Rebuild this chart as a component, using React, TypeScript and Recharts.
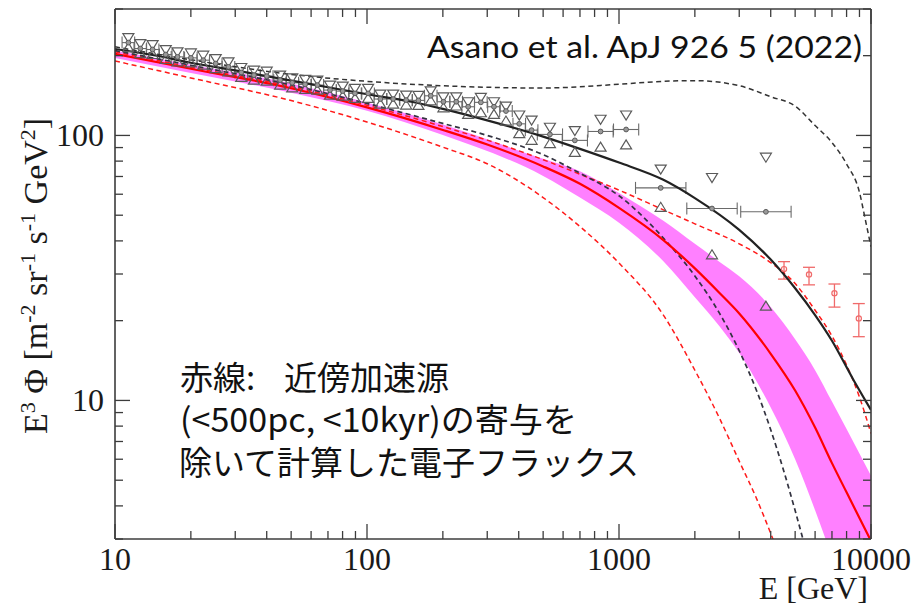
import React from 'react';
import { ComposedChart, Line, Area, Scatter, ErrorBar, XAxis, YAxis } from 'recharts';

// Energy [GeV] grids and E^3 flux values for each model curve
const totalE = [10, 15, 20, 30, 50, 70, 100, 150, 200, 300, 500, 700, 1000, 1500, 2000, 3000, 4000, 5000, 6000, 7000, 8500, 10000];
const totalF = [212, 199, 188, 176, 161, 152, 143, 134, 126, 114, 99, 89, 79, 68, 58, 44, 34, 26.5, 21.0, 16.8, 12.0, 9.2];

const upperDashE = [10, 20, 50, 100, 200, 500, 1000, 1500, 2000, 3000, 4000, 5000, 6000, 7000, 8000, 9000, 9500, 10000];
const upperDashF = [216, 193, 170, 160, 154, 151, 156, 160, 161, 154, 140, 129, 109, 94, 78, 61, 48, 38];

const lowerDashE = [10, 20, 50, 100, 200, 300, 500, 700, 1000, 1500, 2000, 2500, 3000, 3500, 4000, 4500, 5000, 5500, 6000];
const lowerDashF = [209, 184, 155, 132, 111, 100, 84.6, 72, 59.2, 41.0, 29.5, 21.4, 15.4, 11.0, 7.75, 5.44, 3.84, 2.75, 2.0];

const redE = [10, 20, 50, 100, 200, 300, 500, 700, 1000, 1500, 2000, 2500, 3000, 4000, 5000, 6000, 7000, 8000, 9000, 10000];
const redF = [203, 178.5, 150.7, 127.6, 104.9, 92.4, 76.4, 65.7, 53.3, 40.3, 31.5, 25.5, 21.3, 15.0, 10.9, 7.9, 5.8, 4.5, 3.6, 2.95];

const bandE = [10, 20, 50, 100, 200, 500, 700, 1000, 1500, 2000, 2500, 3000, 4000, 5000, 6000, 7000, 8000, 10000];
const bandHi = [209, 185, 157, 133, 110, 81.6, 73.3, 60.7, 47.6, 39.0, 33.4, 29.4, 22.5, 17.0, 13.0, 9.9, 7.8, 5.2];
const bandLo = [196, 172, 145, 124, 100.4, 70.3, 58.3, 46.8, 33.5, 24.5, 19.1, 15.1, 9.4, 6.0, 3.85, 2.55, 1.7, 0.8];

const redUpE = [10, 20, 50, 100, 200, 300, 500, 700, 1000, 1500, 2000, 3000, 4000, 5000, 6000, 7000, 8000, 9000, 10000];
const redUpF = [207, 181, 153, 130, 108, 96, 81, 71.4, 62.2, 52.4, 46.4, 39.0, 33.1, 27.6, 21.9, 17.5, 13.6, 10.3, 7.5];

const redLoE = [10, 20, 50, 100, 200, 300, 500, 700, 1000, 1500, 2000, 2500, 3000, 3500, 4000, 4500];
const redLoF = [191, 164.8, 135.4, 112.4, 90.3, 78.2, 58.3, 45.3, 33.0, 21.0, 13.0, 8.6, 5.9, 4.3, 3.15, 2.35];

// measured points: bin centre, upper/lower systematic markers, central value, bin half-width (dex)
const ptE = [11.3, 12.6, 14.1, 15.9, 17.7, 20.0, 22.4, 25.1, 28.2, 31.7, 35.6, 40.0, 45.2, 50.5, 56.8, 63.5, 71.3, 80.1, 89.6, 101,
  113, 127, 143, 160, 179, 201, 226, 252, 283, 319, 356, 402, 450, 532, 668, 845, 1067, 1464, 2339, 3828];
const ptUp = [232.9, 221.2, 219.3, 210.0, 205.7, 203.9, 199.9, 194.2, 188.6, 179.7, 175.5, 174.0, 168.1, 164.2, 162.0, 161.0, 154.2, 152.8, 149.8, 149.8,
  142.6, 142.6, 141.4, 141.0, 146.7, 139.3, 139.3, 133.4, 138.6, 133.4, 128.5, 118.9, 113.8, 106.9, 103.8, 114.6, 118.9, 74.3, 69.1, 82.4];
const ptLo = [215.4, 204.6, 202.9, 194.3, 190.3, 188.6, 184.9, 179.6, 174.5, 166.2, 162.3, 161.0, 155.5, 151.9, 149.9, 148.9, 142.6, 141.3, 138.6, 138.6,
  131.9, 131.9, 130.8, 130.4, 135.7, 127.7, 129.7, 120.6, 122.3, 120.6, 113.8, 102.0, 96.3, 93.6, 86.7, 90.7, 92.5, 53.8, 35.6, 22.8];
const ptMid = [224.0, 212.8, 211.0, 202.0, 197.9, 196.2, 192.3, 186.8, 181.4, 172.9, 168.8, 167.4, 161.7, 158.0, 155.8, 154.9, 148.3, 147.0, 144.1, 144.1,
  137.2, 137.2, 136.0, 135.6, 141.1, 134.0, 134.0, 128.3, 133.3, 128.3, 123.6, 110.6, 104.7, 100.9, 95.8, 103.5, 105.3, 63.4, 53.0, 51.5];
const ptHalfDex = [0.025, 0.025, 0.025, 0.025, 0.025, 0.025, 0.025, 0.025, 0.025, 0.025, 0.025, 0.025, 0.025, 0.025, 0.025, 0.025, 0.025, 0.025, 0.025, 0.025,
  0.025, 0.025, 0.025, 0.025, 0.025, 0.025, 0.025, 0.025, 0.025, 0.025, 0.025, 0.025, 0.025, 0.05, 0.05, 0.05, 0.05, 0.1, 0.1, 0.1];

// high-energy points with vertical errors
const hiE = [4517, 5675, 7161, 8946];
const hiF = [31.3, 29.9, 25.4, 20.4];
const hiTop = [33.4, 31.8, 27.5, 23.2];
const hiBottom = [28.7, 27.3, 22.5, 17.4];

const xTicks = [10, 20, 30, 40, 50, 60, 70, 80, 90, 100, 200, 300, 400, 500, 600, 700, 800, 900,
  1000, 2000, 3000, 4000, 5000, 6000, 7000, 8000, 9000, 10000];
const yTicks = [3, 4, 5, 6, 7, 8, 9, 10, 20, 30, 40, 50, 60, 70, 80, 90, 100, 200, 300];
const xMajor = [10, 100, 1000, 10000];
const yMajor = [10, 100];

const curve = (es: number[], fs: number[]) => es.map((e, i) => ({ e, f: fs[i] }));

const totalPts = curve(totalE, totalF);
const upperDashPts = curve(upperDashE, upperDashF);
const lowerDashPts = curve(lowerDashE, lowerDashF);
const redPts = curve(redE, redF);
const redUpPts = curve(redUpE, redUpF);
const redLoPts = curve(redLoE, redLoF);
const bandPts = bandE.map((e, i) => ({ e, band: [bandLo[i], bandHi[i]] }));

const upPts = curve(ptE, ptUp);
const loPts = curve(ptE, ptLo);
const midPts = ptE.map((e, i) => {
  const k = Math.pow(10, ptHalfDex[i]);
  return { e, f: ptMid[i], ex: [e - e / k, e * k - e] };
});
const hiPts = hiE.map((e, i) => ({ e, f: hiF[i], ey: [hiF[i] - hiBottom[i], hiTop[i] - hiF[i]] }));

const FRAME = '#3c3c3c';
const GREY = '#5a5a5a';
const SERIF = "'Liberation Serif', 'Times New Roman', serif";
const CJK = "'Noto Sans CJK JP', 'Noto Sans', sans-serif";

const tickLen = (major: boolean) => (major ? 15 : 8);

const BottomTick = ({ x, y, payload }: any) => {
  const major = xMajor.includes(payload.value);
  return (
    <g>
      <line x1={x} x2={x} y1={y} y2={y - tickLen(major)} stroke={FRAME} strokeWidth={1.3} />
      {major && (
        <text x={x} y={y + 31} textAnchor="middle" fontFamily={SERIF} fontSize={32} fill="#1a1a1a">
          {payload.value}
        </text>
      )}
    </g>
  );
};

const TopTick = ({ x, y, payload }: any) => {
  const major = xMajor.includes(payload.value);
  return <line x1={x} x2={x} y1={y} y2={y + tickLen(major)} stroke={FRAME} strokeWidth={1.3} />;
};

const LeftTick = ({ x, y, payload }: any) => {
  const major = yMajor.includes(payload.value);
  return (
    <g>
      <line x1={x} x2={x + tickLen(major)} y1={y} y2={y} stroke={FRAME} strokeWidth={1.3} />
      {major && (
        <text x={x - 11} y={y + 11} textAnchor="end" fontFamily={SERIF} fontSize={32} fill="#1a1a1a">
          {payload.value}
        </text>
      )}
    </g>
  );
};

const RightTick = ({ x, y, payload }: any) => {
  const major = yMajor.includes(payload.value);
  return <line x1={x} x2={x - tickLen(major)} y1={y} y2={y} stroke={FRAME} strokeWidth={1.3} />;
};

const TriDown = ({ cx, cy }: any) =>
  cx == null ? null : (
    <polygon
      points={`${cx - 5.5},${cy - 4.5} ${cx + 5.5},${cy - 4.5} ${cx},${cy + 4.5}`}
      fill="none" stroke={GREY} strokeWidth={1.2}
    />
  );

const TriUp = ({ cx, cy }: any) =>
  cx == null ? null : (
    <polygon
      points={`${cx - 5.5},${cy + 4.5} ${cx + 5.5},${cy + 4.5} ${cx},${cy - 4.5}`}
      fill="none" stroke={GREY} strokeWidth={1.2}
    />
  );

const GreyDot = ({ cx, cy }: any) =>
  cx == null ? null : <circle cx={cx} cy={cy} r={2.4} fill="#9a9a9a" stroke={GREY} strokeWidth={1} />;

const RedDot = ({ cx, cy }: any) =>
  cx == null ? null : <circle cx={cx} cy={cy} r={2.6} fill="none" stroke="#f06a6a" strokeWidth={1.2} />;

// axes need a non-zero box to be drawn, so they get 1px and the margins shrink by the same amount
const axisLine = { stroke: FRAME, strokeWidth: 1.6 };
const xScale = { type: 'number' as const, scale: 'log' as const, domain: [10, 10000], allowDataOverflow: true, ticks: xTicks, interval: 0 as const, tickSize: 0, tickMargin: 0, tickLine: false, axisLine };
const yScale = { type: 'number' as const, scale: 'log' as const, domain: [3, 300], allowDataOverflow: true, ticks: yTicks, interval: 0 as const, tickSize: 0, tickMargin: 0, tickLine: false, axisLine };

export default function App() {
  return (
    <div style={{ position: 'absolute', left: 0, top: 0, width: 916, height: 606, background: '#fff' }}>
      <ComposedChart width={916} height={606} margin={{ top: 8, right: 44, bottom: 66, left: 114 }}>
        <XAxis xAxisId="b" dataKey="e" orientation="bottom" height={1} {...xScale} tick={BottomTick} />
        <XAxis xAxisId="t" dataKey="e" orientation="top" height={1} {...xScale} tick={TopTick} />
        <YAxis yAxisId="l" dataKey="f" orientation="left" width={1} {...yScale} tick={LeftTick} />
        <YAxis yAxisId="r" dataKey="f" orientation="right" width={1} {...yScale} tick={RightTick} />

        <Area xAxisId="b" yAxisId="l" data={bandPts} dataKey="band" type="monotone" stroke="none" fill="#ff80ff" fillOpacity={1} isAnimationActive={false} />

        <Scatter xAxisId="b" yAxisId="l" data={upPts} shape={TriDown} isAnimationActive={false} />
        <Scatter xAxisId="b" yAxisId="l" data={loPts} shape={TriUp} isAnimationActive={false} />
        <Scatter xAxisId="b" yAxisId="l" data={midPts} shape={GreyDot} isAnimationActive={false}>
          <ErrorBar dataKey="ex" direction="x" width={6} stroke="#6a6a6a" strokeWidth={1.1} />
        </Scatter>
        <Scatter xAxisId="b" yAxisId="l" data={hiPts} shape={RedDot} isAnimationActive={false}>
          <ErrorBar dataKey="ey" direction="y" width={6} stroke="#f06a6a" strokeWidth={1.3} />
        </Scatter>

        <Line xAxisId="b" yAxisId="l" data={redLoPts} dataKey="f" type="monotone" stroke="#ff1a1a" strokeWidth={1.5} strokeDasharray="5 3.5" dot={false} isAnimationActive={false} />
        <Line xAxisId="b" yAxisId="l" data={redUpPts} dataKey="f" type="monotone" stroke="#ff1a1a" strokeWidth={1.5} strokeDasharray="5 3.5" dot={false} isAnimationActive={false} />
        <Line xAxisId="b" yAxisId="l" data={lowerDashPts} dataKey="f" type="monotone" stroke="#333340" strokeWidth={1.7} strokeDasharray="5 3.5" dot={false} isAnimationActive={false} />
        <Line xAxisId="b" yAxisId="l" data={upperDashPts} dataKey="f" type="monotone" stroke="#333" strokeWidth={1.5} strokeDasharray="5 3.5" dot={false} isAnimationActive={false} />
        <Line xAxisId="b" yAxisId="l" data={redPts} dataKey="f" type="monotone" stroke="#ff0000" strokeWidth={2.2} dot={false} isAnimationActive={false} />
        <Line xAxisId="b" yAxisId="l" data={totalPts} dataKey="f" type="monotone" stroke="#222" strokeWidth={2.2} dot={false} isAnimationActive={false} />
      </ComposedChart>

      <svg width={916} height={606} style={{ position: 'absolute', left: 0, top: 0, pointerEvents: 'none' }}>
        <text x={427} y={58} fontFamily="Lato, 'Open Sans', sans-serif" fontSize={31} fill="#111" textLength={435} lengthAdjust="spacingAndGlyphs">
          Asano et al. ApJ 926 5 (2022)
        </text>

        <text fontFamily={CJK} fontSize={33} fill="#111">
          <tspan x={180} y={390}>赤線:</tspan>
          <tspan x={284} y={390}>近傍加速源</tspan>
        </text>
        <text x={180} y={432} fontFamily={CJK} fontSize={33} fill="#111" textLength={397} lengthAdjust="spacingAndGlyphs">
          (&lt;500pc, &lt;10kyr)の寄与を
        </text>
        <text x={179} y={475} fontFamily={CJK} fontSize={33} fill="#111">
          除いて計算した電子フラックス
        </text>

        <text x={868} y={599} textAnchor="end" fontFamily={SERIF} fontSize={32} fill="#1a1a1a">
          E [GeV]
        </text>

        <text transform="translate(47,276) rotate(-90)" textAnchor="middle" fontFamily={SERIF} fontSize={34} fill="#1a1a1a">
          E<tspan dy={-12} fontSize={22}>3</tspan>
          <tspan dy={12}> Φ [m</tspan>
          <tspan dy={-12} fontSize={22}>-2</tspan>
          <tspan dy={12}> sr</tspan>
          <tspan dy={-12} fontSize={22}>-1</tspan>
          <tspan dy={12}> s</tspan>
          <tspan dy={-12} fontSize={22}>-1</tspan>
          <tspan dy={12}> GeV</tspan>
          <tspan dy={-12} fontSize={22}>2</tspan>
          <tspan dy={12}>]</tspan>
        </text>
      </svg>
    </div>
  );
}
